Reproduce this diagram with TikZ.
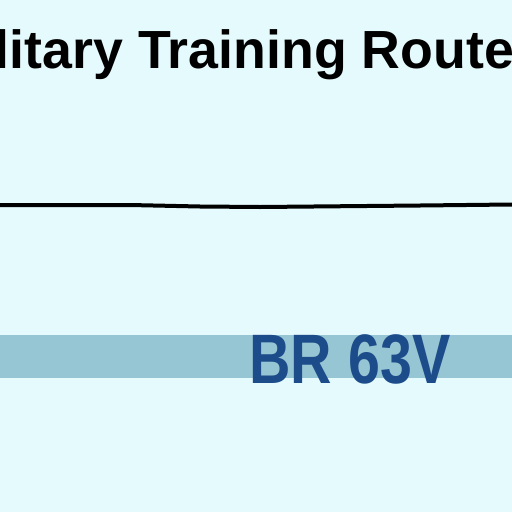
\documentclass[tikz,border=0pt]{standalone}
\usepackage{fontspec}
\setmainfont{Liberation Sans}
\definecolor{skybg}{RGB}{229,250,253}
\definecolor{bandblue}{RGB}{150,197,211}
\definecolor{routeblue}{RGB}{28,76,138}
\begin{document}
\begin{tikzpicture}[x=1pt,y=-1pt]
    \useasboundingbox (0,0) rectangle (512,512);
    \clip (0,0) rectangle (512,512);
    \fill[skybg] (0,0) rectangle (512,512);
    \fill[bandblue] (0,335) rectangle (512,378);

    \node[anchor=base west, inner sep=0pt, text=black] (title) at (-65,68)
      {\fontsize{53.7}{60}\selectfont\bfseries Military Training Route};
    \node[anchor=base, inner sep=0pt, text=routeblue, xscale=0.82] (route) at (350,383)
      {\fontsize{70}{80}\selectfont\bfseries BR 63V};

    \coordinate (l0) at (0,205);
    \coordinate (l1) at (130,205);
    \coordinate (l2) at (200,206.5);
    \coordinate (l3) at (260,207);
    \coordinate (l4) at (420,205.5);
    \coordinate (l5) at (512,204.5);
    \draw[line width=4pt] (l0) -- (l1) -- (l2) -- (l3) -- (l4) -- (l5);
  \end{tikzpicture}
\end{document}
